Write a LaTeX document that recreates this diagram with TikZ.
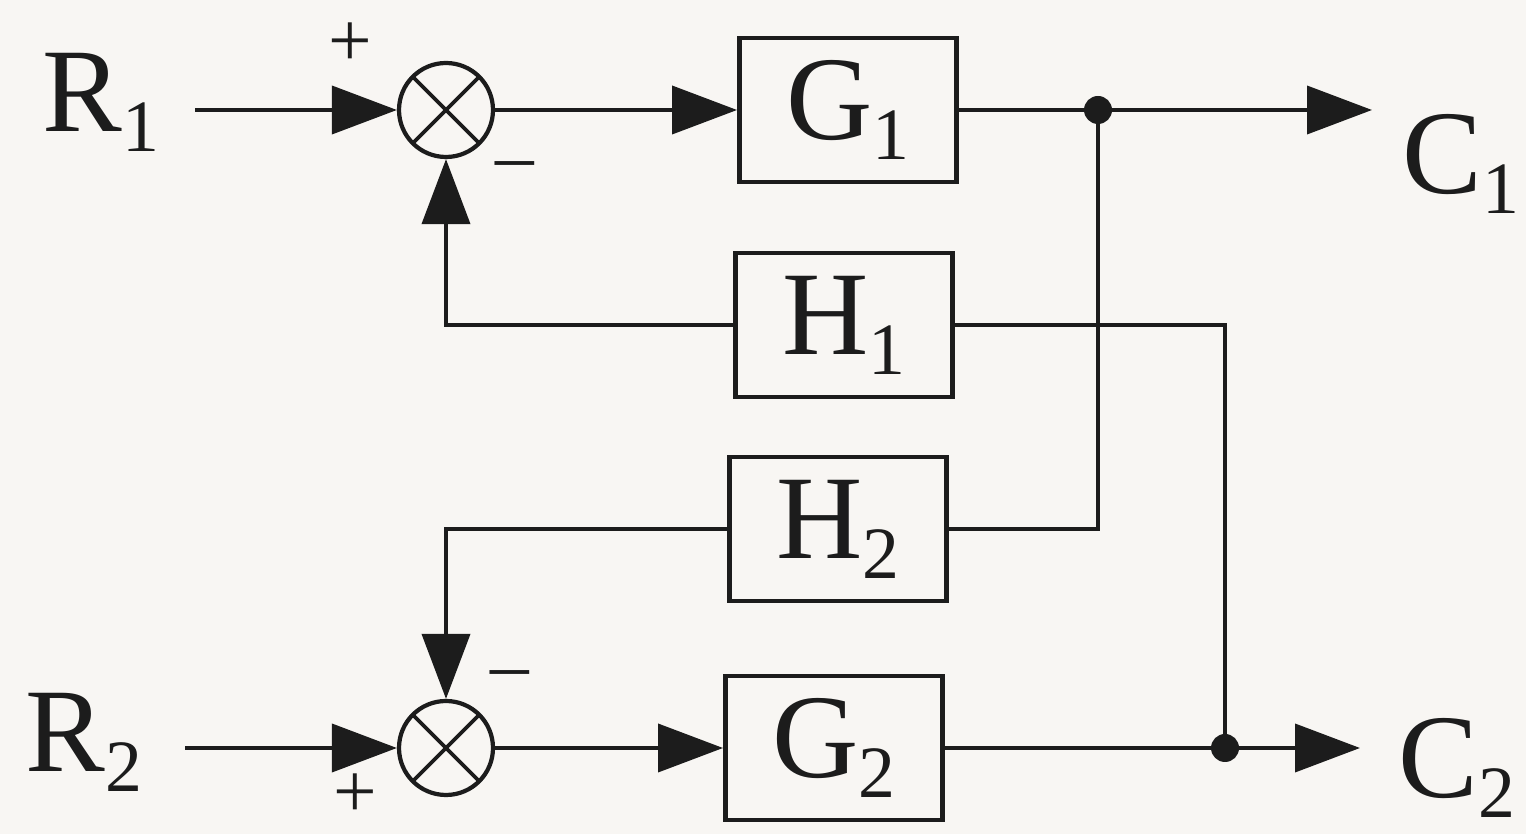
\documentclass[tikz,border=0pt]{standalone}
\usepackage{fontspec}
\setmainfont{Liberation Serif}
\usepackage{tikz}
\usetikzlibrary{arrows.meta,calc}
\definecolor{ink}{HTML}{1C1C1C}
\definecolor{paper}{HTML}{F8F6F3}
\newcommand{\sig}[2]{#1\raisebox{-0.2cm}{\fontsize{21}{21}\selectfont #2}}

\begin{document}
\begin{tikzpicture}[
    lab/.style={font=\fontsize{34}{40}\selectfont,text=ink,inner sep=0pt},
    blk/.style={lab,draw=ink,line width=1.4pt,minimum width=2.17cm,minimum height=1.44cm},
    summ/.style={circle,draw=ink,line width=1.2pt,minimum size=0.94cm,inner sep=0pt,
      path picture={\draw[ink,line width=1.1pt] (path picture bounding box.north west)--(path picture bounding box.south east)
        (path picture bounding box.north east)--(path picture bounding box.south west);}},
    dotn/.style={circle,fill=ink,minimum size=0.28cm,inner sep=0pt},
    sgn/.style={font=\fontsize{22}{22}\selectfont,text=ink,inner sep=0pt},
    wire/.style={ink,line width=1.1pt},
    sig/.style={wire,-{Triangle[length=6.5mm,width=4.8mm]}}]
  \fill[paper] (0,0) rectangle (15.26,8.34);
  \useasboundingbox (0,0) rectangle (15.26,8.34);
  % input and output labels
  \node[lab,anchor=base west] (R1) at (0.42,7.02) {\sig{R}{1}};
  \node[lab,anchor=base west] (R2) at (0.25,0.62) {\sig{R}{2}};
  \node[lab,anchor=base west] (C1) at (14.02,6.40) {\sig{C}{1}};
  \node[lab,anchor=base west] (C2) at (13.98,0.36) {\sig{C}{2}};
  % junctions and blocks
  \node[summ] (s1) at (4.46,7.24) {};
  \node[summ] (s2) at (4.46,0.86) {};
  \node[blk] (G1) at (8.48,7.24) {\sig{G}{1}};
  \node[blk] (H1) at (8.44,5.09) {\sig{H}{1}};
  \node[blk] (H2) at (8.38,3.05) {\sig{H}{2}};
  \node[blk] (G2) at (8.34,0.86) {\sig{G}{2}};
  \node[dotn] (d1) at (10.98,7.24) {};
  \node[dotn] (d2) at (12.25,0.86) {};
  \coordinate (in1) at (1.95,7.24); \coordinate (in2) at (1.85,0.86);
  \coordinate (out1) at (13.72,7.24); \coordinate (out2) at (13.60,0.86);
  % signs
  \node[sgn] (p1) at (3.50,7.89) {+};
  \node[sgn] (m1) at (5.15,6.62) {–};
  \node[sgn] (m2) at (5.10,1.53) {–};
  \node[sgn] (p2) at (3.55,0.38) {+};
  % forward paths
  \draw[sig] (in1) -- (s1.west);
  \draw[sig] (s1.east) -- (G1.west);
  \draw[wire] (G1.east) -- (d1.center);
  \draw[sig] (d1.center) -- (out1);
  \draw[sig] (in2) -- (s2.west);
  \draw[sig] (s2.east) -- (G2.west);
  \draw[wire] (G2.east) -- (d2.center);
  \draw[sig] (d2.center) -- (out2);
  % cross feedback
  \draw[wire] (d1.center) |- (H2.east);
  \draw[wire] (H1.east) -| (d2.center);
  \draw[sig] (H1.west) -| (s1.south);
  \draw[sig] (H2.west) -| (s2.north);
\end{tikzpicture}
\end{document}
